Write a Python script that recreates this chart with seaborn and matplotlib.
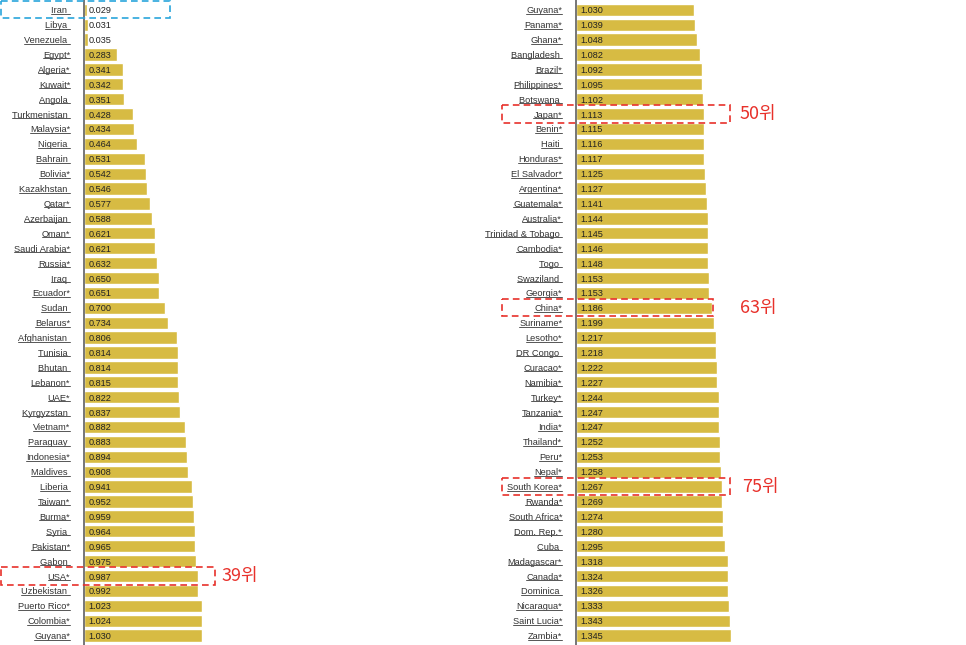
import matplotlib
matplotlib.use("Agg")
import matplotlib.pyplot as plt
import matplotlib.transforms as mtransforms
from matplotlib.patches import Rectangle
from matplotlib.lines import Line2D
import seaborn as sns

# ranks 1-43
left_names = [
    "Iran", "Libya", "Venezuela", "Egypt*", "Algeria*", "Kuwait*", "Angola",
    "Turkmenistan", "Malaysia*", "Nigeria", "Bahrain", "Bolivia*", "Kazakhstan",
    "Qatar*", "Azerbaijan", "Oman*", "Saudi Arabia*", "Russia*", "Iraq",
    "Ecuador*", "Sudan", "Belarus*", "Afghanistan", "Tunisia", "Bhutan",
    "Lebanon*", "UAE*", "Kyrgyzstan", "Vietnam*", "Paraguay", "Indonesia*",
    "Maldives", "Liberia", "Taiwan*", "Burma*", "Syria", "Pakistan*", "Gabon",
    "USA*", "Uzbekistan", "Puerto Rico*", "Colombia*", "Guyana*",
]
left_values = [
    0.029, 0.031, 0.035, 0.283, 0.341, 0.342, 0.351, 0.428, 0.434, 0.464,
    0.531, 0.542, 0.546, 0.577, 0.588, 0.621, 0.621, 0.632, 0.650, 0.651,
    0.700, 0.734, 0.806, 0.814, 0.814, 0.815, 0.822, 0.837, 0.882, 0.883,
    0.894, 0.908, 0.941, 0.952, 0.959, 0.964, 0.965, 0.975, 0.987, 0.992,
    1.023, 1.024, 1.030,
]

# ranks 43-85
right_names = [
    "Guyana*", "Panama*", "Ghana*", "Bangladesh", "Brazil*", "Philippines*",
    "Botswana", "Japan*", "Benin*", "Haiti", "Honduras*", "El Salvador*",
    "Argentina*", "Guatemala*", "Australia*", "Trinidad & Tobago", "Cambodia*",
    "Togo", "Swaziland", "Georgia*", "China*", "Suriname*", "Lesotho*",
    "DR Congo", "Curacao*", "Namibia*", "Turkey*", "Tanzania*", "India*",
    "Thailand*", "Peru*", "Nepal*", "South Korea*", "Rwanda*", "South Africa*",
    "Dom. Rep.*", "Cuba", "Madagascar*", "Canada*", "Dominica", "Nicaragua*",
    "Saint Lucia*", "Zambia*",
]
right_values = [
    1.030, 1.039, 1.048, 1.082, 1.092, 1.095, 1.102, 1.113, 1.115, 1.116,
    1.117, 1.125, 1.127, 1.141, 1.144, 1.145, 1.146, 1.148, 1.153, 1.153,
    1.186, 1.199, 1.217, 1.218, 1.222, 1.227, 1.244, 1.247, 1.247, 1.252,
    1.253, 1.258, 1.267, 1.269, 1.274, 1.280, 1.295, 1.318, 1.324, 1.326,
    1.333, 1.343, 1.345,
]
left_start_rank = 1
right_start_rank = 43

# highlighted rows: (panel, name, box left px, box right px, rank text px, colour)
highlights = [
    ("left", "Iran", 1, 170, None, "#2aa6dc"),
    ("left", "USA*", 1, 215, 222, "#e8312b"),
    ("right", "Japan*", 502, 730, 740, "#e8312b"),
    ("right", "China*", 502, 713, 740, "#e8312b"),
    ("right", "South Korea*", 502, 730, 742, "#e8312b"),
]

sns.set_style("white")
plt.rcParams["font.family"] = ["Liberation Sans", "Noto Sans CJK KR", "DejaVu Sans"]

W, H = 966, 645
fig = plt.figure(figsize=(W / 100, H / 100), dpi=100)

bar_color = "#d7bb43"
text_color = "#333333"
px_per_unit = 115.0
row_px = 14.9
first_row_px = 9.8

def make_panel(x0_px, names, values):
    width_px = 1.45 * px_per_unit
    ax = fig.add_axes([x0_px / W, 0, width_px / W, 1])
    labels = [n if n.endswith("*") else n + " " for n in names]
    sns.barplot(x=values, y=labels, orient="h", color=bar_color,
                saturation=1, width=0.82, ax=ax)
    ax.set_xlim(0, 1.45)
    top = -first_row_px / row_px
    bottom = (H - first_row_px) / row_px
    ax.set_ylim(bottom, top)
    for s in ["top", "right", "bottom"]:
        ax.spines[s].set_visible(False)
    ax.spines["left"].set_color("#6b6b6b")
    ax.spines["left"].set_linewidth(1.3)
    ax.set_xticks([])
    ax.set_xlabel("")
    ax.set_ylabel("")
    ax.tick_params(axis="y", length=0, pad=10, labelsize=6.7, labelcolor=text_color)
    off = mtransforms.offset_copy(ax.transData, fig=fig, x=4.5, y=0, units="dots")
    for i, v in enumerate(values):
        ax.text(0, i, f"{v:.3f}", transform=off, ha="left", va="center_baseline",
                fontsize=6.6, color="#222222")
    return ax

ax_left = make_panel(84, left_names, left_values)
ax_right = make_panel(576, right_names, right_values)

panels = {
    "left": (ax_left, left_names, left_start_rank),
    "right": (ax_right, right_names, right_start_rank),
}

for panel, name, x0, x1, xt, col in highlights:
    ax, names, start = panels[panel]
    i = names.index(name)
    tr = mtransforms.blended_transform_factory(fig.transFigure, ax.transData)
    rect = Rectangle((x0 / W, i - 0.58), (x1 - x0) / W, 1.16, transform=tr,
                     fill=False, edgecolor=col, linewidth=1.2,
                     linestyle=(0, (4, 2.5)), clip_on=False, zorder=5)
    ax.add_patch(rect)
    if xt is not None:
        ax.text(xt / W, i, f"{start + i}위", transform=tr, ha="left",
                va="center", fontsize=13, color=col,
                family=["Noto Sans CJK KR", "DejaVu Sans"], clip_on=False)

# underline the country labels
fig.canvas.draw()
renderer = fig.canvas.get_renderer()
for ax in (ax_left, ax_right):
    for lbl in ax.get_yticklabels():
        bb = lbl.get_window_extent(renderer)
        y = bb.y0 + 1.6
        fig.add_artist(Line2D([bb.x0 / W, bb.x1 / W], [y / H, y / H],
                              transform=fig.transFigure, color="#555555",
                              linewidth=0.7))

fig.savefig("out.png", dpi=100)
